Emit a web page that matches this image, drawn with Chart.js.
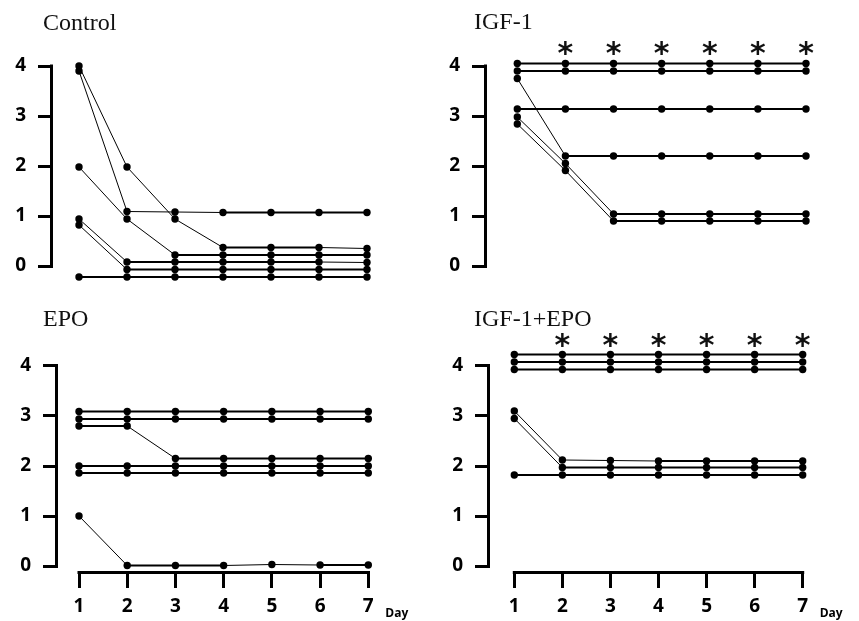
<!DOCTYPE html>
<html>
<head>
<meta charset="utf-8">
<script src="https://cdn.jsdelivr.net/npm/chart.js@4.4.1/dist/chart.umd.min.js"></script>
<style>
  html, body { margin: 0; padding: 0; background: #fff; }
  #wrap { position: relative; width: 859px; height: 621px; }
  #wrap canvas { position: absolute; }
</style>
</head>
<body>
<div id="wrap">
  <canvas id="control" width="430" height="300" style="left:0;top:0"></canvas>
  <canvas id="igf" width="429" height="300" style="left:430px;top:0"></canvas>
  <canvas id="epo" width="430" height="321" style="left:0;top:300px"></canvas>
  <canvas id="igfepo" width="429" height="321" style="left:430px;top:300px"></canvas>
</div>
<script>
// shared axes
const days = [1, 2, 3, 4, 5, 6, 7];
const yTicks = [0, 1, 2, 3, 4];
const starDays = [2, 3, 4, 5, 6, 7];

// one row per animal, one value per day
const controlScores = [
  [4.00, 1.98, 0.94, 0.37, 0.37, 0.37, 0.35],
  [3.90, 1.09, 1.08, 1.07, 1.07, 1.07, 1.07],
  [1.98, 0.94, 0.22, 0.22, 0.22, 0.22, 0.22],
  [0.94, 0.08, 0.08, 0.08, 0.08, 0.08, 0.07],
  [0.82, -0.07, -0.07, -0.07, -0.07, -0.07, -0.07],
  [-0.22, -0.22, -0.22, -0.22, -0.22, -0.22, -0.22]
];
const igfScores = [
  [4.05, 4.05, 4.05, 4.05, 4.05, 4.05, 4.05],
  [3.90, 3.90, 3.90, 3.90, 3.90, 3.90, 3.90],
  [3.75, 2.20, 2.20, 2.20, 2.20, 2.20, 2.20],
  [3.14, 3.14, 3.14, 3.14, 3.14, 3.14, 3.14],
  [2.98, 2.05, 1.04, 1.04, 1.04, 1.04, 1.04],
  [2.84, 1.91, 0.90, 0.90, 0.90, 0.90, 0.90]
];
const epoScores = [
  [3.09, 3.09, 3.09, 3.09, 3.09, 3.09, 3.09],
  [2.94, 2.94, 2.94, 2.94, 2.94, 2.94, 2.94],
  [2.80, 2.80, 2.15, 2.15, 2.15, 2.15, 2.15],
  [2.00, 2.00, 2.00, 2.00, 2.00, 2.00, 2.00],
  [1.86, 1.86, 1.86, 1.86, 1.86, 1.86, 1.86],
  [1.00, 0.01, 0.01, 0.01, 0.03, 0.02, 0.02]
];
const igfEpoScores = [
  [4.23, 4.23, 4.23, 4.23, 4.23, 4.23, 4.23],
  [4.08, 4.08, 4.08, 4.08, 4.08, 4.08, 4.08],
  [3.93, 3.93, 3.93, 3.93, 3.93, 3.93, 3.93],
  [3.10, 2.12, 2.11, 2.10, 2.10, 2.10, 2.10],
  [2.95, 1.97, 1.97, 1.97, 1.97, 1.97, 1.97],
  [1.82, 1.82, 1.82, 1.82, 1.82, 1.82, 1.82]
];

const panels = [
  { id: 'control', title: 'Control', scores: controlScores, stars: [], xAxis: false, yMin: -0.2,
    h: 300, axisX: 53, day1X: 79, day7X: 367, titleX: 43, titleY: 30, starY: 48 },
  { id: 'igf', title: 'IGF-1', scores: igfScores, stars: starDays, xAxis: false, yMin: -0.2,
    h: 300, axisX: 57, day1X: 87.3, day7X: 376, titleX: 44, titleY: 29, starY: 48 },
  { id: 'epo', title: 'EPO', scores: epoScores, stars: [], xAxis: true, yMin: -0.1,
    h: 321, axisX: 58, day1X: 79, day7X: 368.3, titleX: 43, titleY: 26, starY: 40 },
  { id: 'igfepo', title: 'IGF-1+EPO', scores: igfEpoScores, stars: starDays, xAxis: true, yMin: -0.1,
    h: 321, axisX: 60, day1X: 84.3, day7X: 372.7, titleX: 44, titleY: 26, starY: 40 }
];

const AREA_TOP = 51, PX_PER_UNIT = 50, Y_MAX = 4.3, PAD_RIGHT = 30;

// axis lines, titles, asterisks and the "Day" label
const decor = {
  id: 'decor',
  afterDraw(chart) {
    const p = chart.options.plugins.decor;
    const { ctx, chartArea, scales: { x, y } } = chart;
    ctx.save();
    ctx.strokeStyle = '#000';
    ctx.lineWidth = 3;
    ctx.lineCap = 'butt';
    ctx.beginPath();
    ctx.moveTo(chartArea.left - 1.5, y.getPixelForValue(4) - 1.5);
    ctx.lineTo(chartArea.left - 1.5, y.getPixelForValue(0) + 1.5);
    ctx.stroke();
    if (p.xAxis) {
      ctx.beginPath();
      ctx.moveTo(x.getPixelForValue(1) - 1.5, chartArea.bottom + 1.5);
      ctx.lineTo(x.getPixelForValue(7) + 1.5, chartArea.bottom + 1.5);
      ctx.stroke();
      ctx.fillStyle = '#000';
      ctx.font = 'bold 12px "Open Sans"';
      ctx.textBaseline = 'alphabetic';
      ctx.fillText('Day', x.getPixelForValue(7) + 17, chart.height - 4);
    }
    ctx.fillStyle = '#111';
    ctx.font = '24px "Liberation Serif"';
    ctx.textBaseline = 'alphabetic';
    ctx.fillText(p.title, p.titleX, p.titleY);
    ctx.font = 'bold 30px "DejaVu Sans"';
    ctx.textAlign = 'center';
    const m = ctx.measureText('*');
    const off = (m.actualBoundingBoxAscent - m.actualBoundingBoxDescent) / 2;
    p.stars.forEach(d => ctx.fillText('*', x.getPixelForValue(d), p.starY + off));
    ctx.restore();
  }
};

const tickFont = { family: 'Open Sans', size: 19, weight: 'bold' };

panels.forEach(p => {
  const w = document.getElementById(p.id).width;
  const pxPerDay = (p.day7X - p.day1X) / 6;
  const right = w - PAD_RIGHT;
  const xMin = 1 - (p.day1X - p.axisX) / pxPerDay;
  const xMax = 7 + (right - p.day7X) / pxPerDay;
  const areaBottom = AREA_TOP + (Y_MAX - p.yMin) * PX_PER_UNIT;

  new Chart(document.getElementById(p.id), {
    type: 'line',
    data: {
      datasets: p.scores.map(vals => ({
        data: vals.map((v, i) => ({ x: days[i], y: v })),
        borderColor: '#000',
        borderWidth: 2,
        segment: {
          borderWidth: c => (c.p0.parsed.y === c.p1.parsed.y ? 2 : 1)
        },
        pointRadius: 3.7,
        pointBackgroundColor: '#000',
        pointBorderWidth: 0,
        tension: 0,
        clip: false
      }))
    },
    options: {
      responsive: false,
      animation: false,
      events: [],
      layout: {
        padding: { top: AREA_TOP, left: 0, right: PAD_RIGHT, bottom: p.xAxis ? 0 : p.h - areaBottom }
      },
      plugins: {
        legend: { display: false },
        tooltip: { enabled: false },
        decor: p
      },
      scales: {
        x: {
          type: 'linear',
          display: p.xAxis,
          min: xMin,
          max: xMax,
          afterBuildTicks: s => { s.ticks = days.map(v => ({ value: v })); },
          afterFit: s => { if (p.xAxis) s.height = p.h - areaBottom; },
          border: { display: false },
          grid: { drawOnChartArea: false, drawTicks: true, tickLength: 17, lineWidth: 3, color: '#000' },
          ticks: { autoSkip: false, maxRotation: 0, padding: 7, color: '#000', font: tickFont }
        },
        y: {
          min: p.yMin,
          max: Y_MAX,
          afterBuildTicks: s => { s.ticks = yTicks.map(v => ({ value: v })); },
          afterFit: s => { s.width = p.axisX; },
          border: { display: false },
          grid: { drawOnChartArea: false, drawTicks: true, tickLength: 15, lineWidth: 3, color: '#000' },
          ticks: { padding: 12, color: '#000', font: tickFont }
        }
      }
    },
    plugins: [decor]
  });
});
</script>
</body>
</html>
